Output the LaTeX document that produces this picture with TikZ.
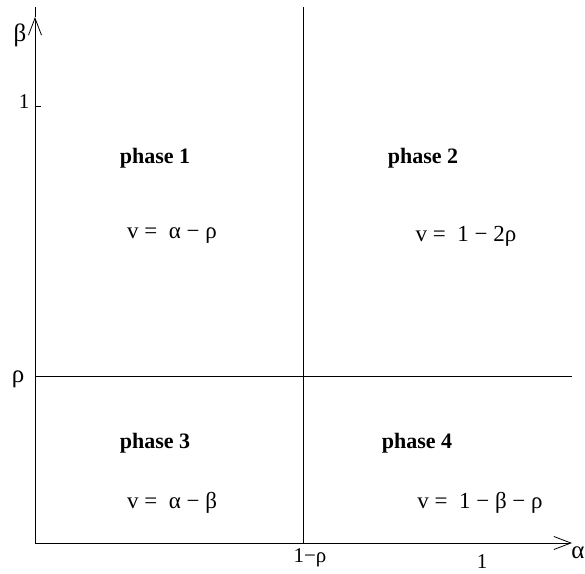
\documentclass[tikz,border=0pt]{standalone}
\usepackage{fontspec}
\setmainfont{Liberation Serif}
\usetikzlibrary{arrows.meta, math}

\tikzset{
  axis/.style={line width=1pt, -{Straight Barb[length=17pt,width=13pt,line width=0.8pt]}},
  border/.style={line width=1pt},
  phase/.style={font=\fontsize{22}{26}\selectfont\bfseries},
  speed/.style={font=\fontsize{23}{27}\selectfont},
  axlabel/.style={inner sep=0pt, font=\fontsize{21}{24}\selectfont},
  greek/.style={inner sep=0pt, font=\fontsize{25}{28}\selectfont},
}

\begin{document}
\begin{tikzpicture}[x=1pt,y=1pt]

\tikzmath{
\Xo = 35;
\Yo = 30;
\Xr = 303;   % 1-rho
\Yr = 197;   % rho
\Xe = 572;
\Ye = 566;
}
\useasboundingbox (0,0) rectangle (585,573);
%
\coordinate (O) at (\Xo,\Yo);
\coordinate (xend) at (\Xe,\Yo);
\coordinate (ytip) at (\Xo,556);
\coordinate (yend) at (\Xo,\Ye);

% axes
\draw[axis] (O) -- (xend);
\draw[axis] (O) -- (ytip);
\draw[border] (ytip) -- (yend);
\draw[border] (\Xo,466) coordinate (tick) -- +(6,0);

% phase borders
\coordinate (vb) at (\Xr,\Yo);
\coordinate (vt) at (\Xr,\Ye);
\coordinate (hl) at (\Xo,\Yr);
\coordinate (hr) at (\Xe,\Yr);
\draw[border] (vb) -- (vt);
\draw[border] (hl) -- (hr);

% axis labels
\node[greek] (beta) at (20,538) {β};
\node[axlabel] (one-y) at (24,471) {1};
\node[greek] (rho) at (18,194) {ρ};
\node[greek] (alpha) at (578,20) {α};
\node[axlabel] (onerho) at (310,15) {1−ρ};
\node[axlabel] (one-x) at (482,11) {1};

% phases
\node[phase] (ph1) at (155,415) {phase 1};
\node[speed] (v1) at (172,337) {v =\ \ α − ρ};
\node[phase] (ph2) at (423,415) {phase 2};
\node[speed] (v2) at (466,337) {v =\ \ 1 − 2ρ};
\node[phase] (ph3) at (155,130) {phase 3};
\node[speed] (v3) at (172,70) {v =\ \ α − β};
\node[phase] (ph4) at (417,130) {phase 4};
\node[speed] (v4) at (480,70) {v =\ \ 1 − β − ρ};

\end{tikzpicture}
\end{document}
